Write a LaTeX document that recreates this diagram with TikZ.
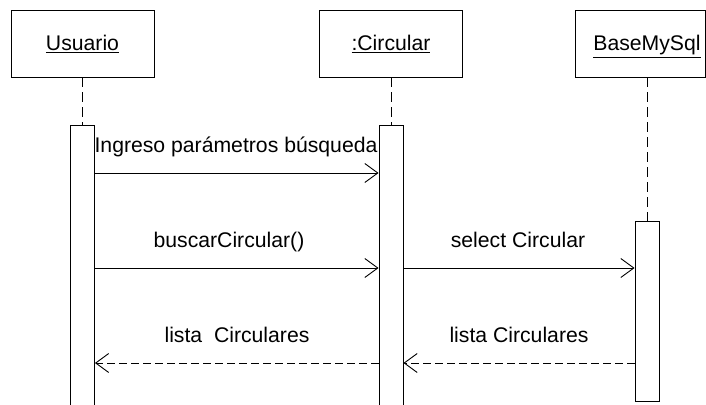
\documentclass[tikz,border=0pt]{standalone}
\usepackage{fontspec}
\setmainfont{Liberation Sans}
\usetikzlibrary{arrows.meta}
\tikzset{
  objbox/.style={draw, minimum width=143pt, minimum height=67pt, inner sep=0pt},
  objname/.style={anchor=base, inner sep=0pt},
  actbar/.style={draw, fill=white, minimum width=24pt, inner sep=0pt, anchor=north},
  lifeline/.style={dash pattern=on 10pt off 5pt},
  msg/.style={-{Straight Barb[length=13pt,width=19pt]}},
  retmsg/.style={msg, dash pattern=on 8pt off 4pt},
  msglabel/.style={anchor=base, inner sep=0pt}
}
\begin{document}
\begin{tikzpicture}[x=1pt, y=-1pt, line width=0.9pt, font=\fontsize{21.2}{25}\selectfont]
  \clip (0,0) rectangle (706,404);

  % objetos
  \node[objbox] (usuario) at (82.5,43.5) {};
  \node[objbox] (circular) at (391,43.5) {};
  \node[objbox, minimum width=130pt] (base) at (640,43.5) {};
  \node[objname] at (82.5,51) {\underline{Usuario}};
  \node[objname] at (391,51) {\underline{:Circular}};
  \node[objname] at (647,51) {\underline{BaseMySql}};

  % barras de activacion
  \node[actbar, minimum height=300pt] (barU) at (82.5,125) {};
  \node[actbar, minimum height=300pt] (barC) at (391,125) {};
  \node[actbar, minimum height=180pt] (barB) at (647,221) {};

  % lineas de vida
  \draw[lifeline] (usuario.south) -- (barU.north);
  \draw[lifeline] (circular.south) -- (barC.north);
  \draw[lifeline] (barB.north |- base.south) -- (barB.north);

  % mensajes
  \coordinate (m1) at (0,173);
  \coordinate (m2) at (0,268);
  \coordinate (m3) at (0,363);
  \draw[msg] (barU.east |- m1) -- (barC.west |- m1);
  \draw[msg] (barU.east |- m2) -- (barC.west |- m2);
  \draw[msg] (barC.east |- m2) -- (barB.west |- m2);
  \draw[retmsg] (barC.west |- m3) -- (barU.east |- m3);
  \draw[retmsg] (barB.west |- m3) -- (barC.east |- m3);

  \node[msglabel] at (236,152) {Ingreso parámetros búsqueda};
  \node[msglabel] at (229,247) {buscarCircular()};
  \node[msglabel] at (518,247) {select Circular};
  \node[msglabel] at (237,342) {lista\ \ Circulares};
  \node[msglabel] at (519,342) {lista Circulares};
\end{tikzpicture}
\end{document}
